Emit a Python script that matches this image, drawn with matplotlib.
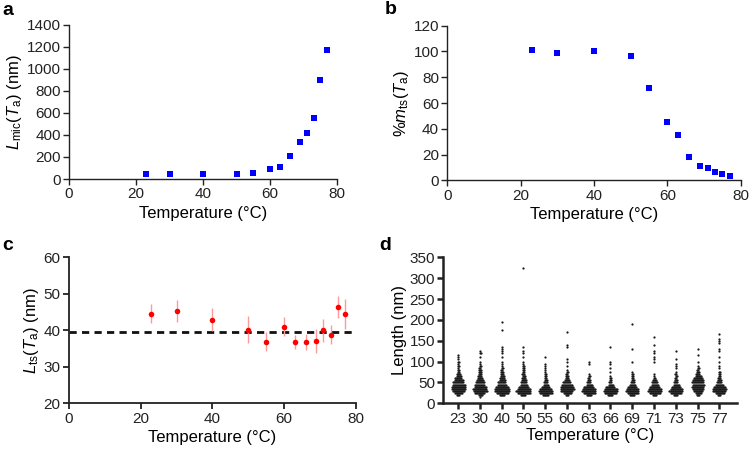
import numpy as np
import matplotlib as mpl
mpl.use("Agg")
import matplotlib.pyplot as plt

plt.rcParams['font.family'] = ['Liberation Sans', 'DejaVu Sans']
plt.rcParams['mathtext.fontset'] = 'custom'
plt.rcParams['mathtext.rm'] = 'Liberation Sans'
plt.rcParams['mathtext.it'] = 'Liberation Sans:italic'

# panel a / b / c data (temperature in degC)
temps = [23, 30, 40, 50, 55, 60, 63, 66, 69, 71, 73, 75, 77]
l_mic = [48, 48, 48, 42, 55, 88, 109, 209, 333, 415, 557, 900, 1175]
pct_mts = [101.1, 98.8, 100.1, 96.5, 71.4, 45.5, 35.4, 18.1, 11.4, 9.3, 6.7, 5.2, 3.6]
l_ts = [44.6, 45.2, 42.9, 40.2, 36.8, 41.0, 36.8, 36.8, 37.1, 40.0, 38.8, 46.4, 44.5]
l_ts_err = [2.5, 3.0, 3.1, 3.8, 2.6, 2.7, 2.0, 2.3, 3.3, 3.2, 2.6, 2.9, 4.2]
l_ts_mean = 39.5

# panel d: length values (nm) and how many fibrils sit at each value, per temperature
d_labels = ['23', '30', '40', '50', '55', '60', '63', '66', '69', '71', '73', '75', '77']
d_lengths = [
    [20, 25, 30, 35, 40, 45, 50, 55, 60, 65, 70, 75, 80, 85, 90, 95, 100, 105, 110, 115],
    [15, 20, 25, 30, 35, 40, 45, 50, 55, 60, 65, 70, 75, 80, 85, 90, 95, 100, 110, 120, 125],
    [20, 25, 30, 35, 40, 45, 50, 55, 60, 65, 70, 75, 80, 85, 90, 95, 100, 110, 120, 125, 130, 135, 175, 195],
    [20, 25, 30, 35, 40, 45, 50, 55, 60, 65, 70, 75, 80, 85, 90, 95, 100, 110, 120, 125, 135, 325],
    [20, 25, 30, 35, 40, 45, 50, 55, 60, 65, 70, 75, 80, 85, 90, 95, 110],
    [20, 25, 30, 35, 40, 45, 50, 55, 60, 65, 70, 75, 80, 90, 100, 105, 135, 140, 170],
    [20, 25, 30, 35, 40, 45, 50, 55, 60, 65, 70, 95, 100],
    [20, 25, 30, 35, 40, 45, 50, 55, 60, 65, 75, 85, 95, 100, 135],
    [20, 25, 30, 35, 40, 45, 50, 55, 60, 65, 70, 75, 100, 130, 190],
    [20, 25, 30, 35, 40, 45, 50, 55, 60, 65, 70, 100, 105, 110, 120, 125, 140, 160],
    [20, 25, 30, 35, 40, 45, 50, 55, 60, 65, 70, 75, 85, 90, 95, 105, 125],
    [20, 25, 30, 35, 40, 45, 50, 55, 60, 65, 70, 75, 80, 85, 90, 100, 115, 130],
    [20, 25, 30, 35, 40, 45, 50, 55, 60, 65, 70, 75, 85, 90, 100, 110, 125, 130, 145, 150, 155, 165],
]
d_counts = [
    [3, 8, 12, 14, 14, 13, 11, 9, 7, 5, 4, 2, 2, 1, 2, 1, 2, 1, 1, 1],
    [1, 4, 10, 14, 14, 12, 10, 9, 7, 5, 4, 3, 3, 3, 2, 2, 1, 1, 1, 2, 1],
    [5, 12, 15, 15, 13, 9, 8, 6, 5, 4, 3, 3, 2, 2, 1, 1, 1, 1, 1, 1, 1, 1, 1, 1],
    [5, 13, 15, 13, 10, 7, 6, 5, 4, 3, 3, 2, 2, 2, 2, 1, 1, 1, 1, 1, 1, 1],
    [6, 13, 14, 12, 8, 5, 4, 3, 2, 2, 2, 1, 1, 1, 1, 1, 1],
    [3, 8, 12, 14, 13, 11, 8, 5, 3, 3, 2, 2, 1, 1, 1, 1, 1, 1, 1],
    [5, 12, 14, 13, 10, 6, 4, 3, 2, 2, 1, 1, 1],
    [5, 12, 14, 13, 9, 5, 3, 2, 2, 1, 1, 1, 1, 1, 1],
    [5, 11, 13, 12, 9, 6, 4, 3, 2, 2, 2, 1, 1, 1, 1],
    [4, 11, 14, 13, 10, 7, 6, 4, 2, 1, 1, 1, 1, 1, 1, 1, 1, 1],
    [4, 11, 14, 12, 9, 6, 4, 3, 2, 2, 2, 1, 1, 1, 1, 1, 1],
    [3, 6, 9, 11, 12, 12, 12, 11, 9, 6, 4, 3, 2, 2, 1, 1, 1, 1],
    [3, 9, 13, 14, 12, 8, 5, 4, 3, 2, 2, 2, 1, 1, 1, 1, 1, 1, 1, 1, 1, 1],
]

blue = '#0000ff'
red = '#ff0000'
tick_fs = 11
lab_fs = 12

fig = plt.figure(figsize=(7.49, 4.51), dpi=100)


def style_axis(ax, lw=1.0):
    for s in ['top', 'right']:
        ax.spines[s].set_visible(False)
    for s in ['left', 'bottom']:
        ax.spines[s].set_linewidth(lw)
        ax.spines[s].set_color('#222222')
    ax.tick_params(direction='out', length=4, width=lw, labelsize=tick_fs, pad=2,
                   colors='#222222', labelcolor='#222222')


# a
ax_a = fig.add_axes([0.0921, 0.6031, 0.358, 0.3415])
ax_a.scatter(temps, l_mic, marker='s', s=24, color=blue, zorder=3, linewidths=0)
ax_a.set_xlim(0, 80)
ax_a.set_ylim(0, 1400)
ax_a.set_xticks([0, 20, 40, 60, 80])
ax_a.set_yticks(range(0, 1401, 200))
ax_a.set_xlabel('Temperature (°C)', fontsize=lab_fs, labelpad=3)
ax_a.set_ylabel(r'$L_{\rm mic}(T_{\rm a})$ (nm)', fontsize=lab_fs, labelpad=2)
style_axis(ax_a)

# b
ax_b = fig.add_axes([0.5972, 0.6002, 0.3917, 0.3428])
ax_b.scatter(temps, pct_mts, marker='s', s=15, color=blue, zorder=3, linewidths=0)
ax_b.set_xlim(0, 80)
ax_b.set_ylim(0, 120)
ax_b.set_xticks([0, 20, 40, 60, 80])
ax_b.set_yticks(range(0, 121, 20))
ax_b.set_xlabel('Temperature (°C)', fontsize=lab_fs, labelpad=3)
ax_b.set_ylabel(r'%$m_{\rm ts}(T_{\rm a})$', fontsize=lab_fs, labelpad=2)
style_axis(ax_b)

# c
ax_c = fig.add_axes([0.0921, 0.1058, 0.3828, 0.3237])
ax_c.plot([0, 80], [l_ts_mean, l_ts_mean], color='#111111', lw=2,
          dashes=(2.6, 1.9), zorder=2)
ax_c.errorbar(temps, l_ts, yerr=l_ts_err, fmt='o', ms=4, color=red,
              ecolor='#ff9a9a', elinewidth=1.0, capsize=2, capthick=1.0,
              markeredgewidth=0, zorder=3)
ax_c.set_xlim(0, 80)
ax_c.set_ylim(20, 60)
ax_c.set_xticks([0, 20, 40, 60, 80])
ax_c.set_yticks(range(20, 61, 10))
ax_c.set_xlabel('Temperature (°C)', fontsize=lab_fs, labelpad=3)
ax_c.set_ylabel(r'$L_{\rm ts}(T_{\rm a})$ (nm)', fontsize=lab_fs, labelpad=2)
style_axis(ax_c, lw=1.3)

# d  - swarm layout of the counted lengths
ax_d = fig.add_axes([0.5919, 0.1058, 0.3917, 0.3237])
dx = 0.046
for gi, (lens, cnts) in enumerate(zip(d_lengths, d_counts)):
    xs, ys = [], []
    for ri, (L, n) in enumerate(zip(lens, cnts)):
        shift = (dx / 2) * (ri % 2)
        for k in range(n):
            xs.append(gi + (k - (n - 1) / 2) * dx + (shift if n > 1 else 0))
            ys.append(L)
    ax_d.scatter(xs, ys, s=2.6, color='#1a1a1a', linewidths=0, zorder=3)
ax_d.set_xlim(-0.68, 12.8)
ax_d.set_ylim(0, 350)
ax_d.set_xticks(range(len(d_labels)))
ax_d.set_xticklabels(d_labels)
ax_d.set_yticks(range(0, 351, 50))
ax_d.set_xlabel('Temperature (°C)', fontsize=lab_fs, labelpad=2)
ax_d.set_ylabel('Length (nm)', fontsize=lab_fs, labelpad=2)
style_axis(ax_d, lw=1.8)

for lab, (x, y) in zip('abcd', [(0.003, 0.977), (0.513, 0.978), (0.003, 0.455), (0.507, 0.455)]):
    fig.text(x, y, lab, fontsize=14, fontweight='bold', va='center', ha='left')

fig.savefig('out.png', dpi=100)
